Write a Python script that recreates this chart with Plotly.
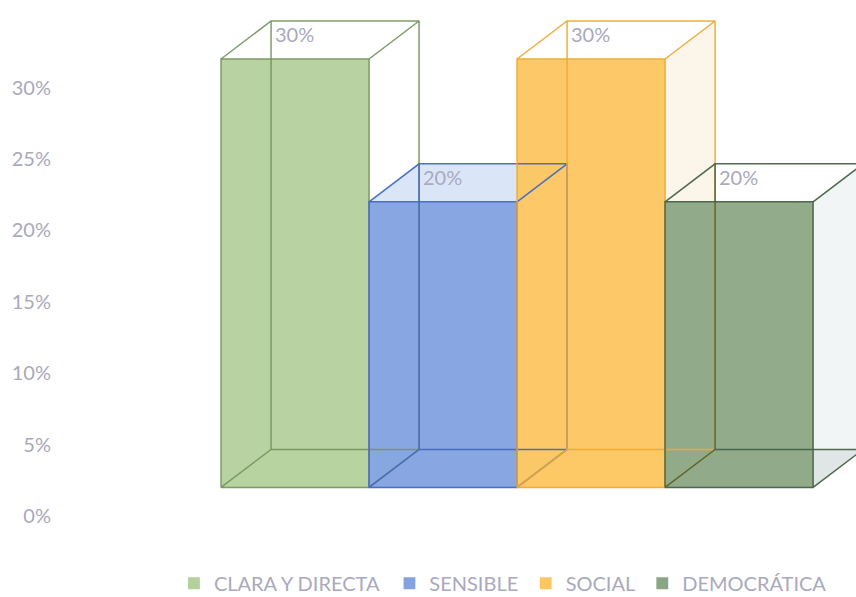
import plotly.graph_objects as go

# Data
categories = ["CLARA Y DIRECTA", "SENSIBLE", "SOCIAL", "DEMOCRÁTICA"]
values = [30, 20, 30, 20]
y_ticks = [0, 5, 10, 15, 20, 25, 30]
y_tick_labels = ["0%", "5%", "10%", "15%", "20%", "25%", "30%"]

# Style
front_colors = ["#b4d19c", "#82a2e0", "#fdc660", "#8ba685"]
line_colors = ["rgba(120,150,95,0.95)", "rgba(65,105,195,0.95)", "rgba(238,170,50,0.95)", "rgba(70,98,68,0.95)"]
top_colors = ["rgba(255,255,255,0)", "rgba(190,208,243,0.55)", "rgba(250,240,220,0.0)", "rgba(235,230,210,0.0)"]
side_colors = ["rgba(255,255,255,0)", "rgba(190,208,243,0.25)", "rgba(248,238,220,0.6)", "rgba(225,232,235,0.45)"]
floor_colors = ["rgba(190,215,170,0.3)", "rgba(150,180,230,0.3)", "rgba(250,210,130,0.3)", "rgba(190,200,195,0.5)"]
text_color = "#a9a9bd"
font_family = "Lato"
legend_x = [0.169, 0.437, 0.6065, 0.7515]

# Fake-3D geometry, in axis units
base = 2.0
depth_x = 0.338
depth_y = 2.66


def path(xs, ys):
    return "M " + " L ".join(f"{a},{b}" for a, b in zip(xs, ys)) + " Z"


fig = go.Figure()
shapes = []

for i, (cat, val) in enumerate(zip(categories, values)):
    fig.add_trace(go.Bar(
        x=[i], y=[val], base=[base], width=[1], name=cat,
        marker=dict(color=front_colors[i], opacity=0.95, line=dict(width=0)),
        hoverinfo="skip",
        legend="legend" if i == 0 else f"legend{i + 1}",
    ))

for i, val in enumerate(values):
    l, r = i - 0.5, i + 0.5
    bot, top = base, base + val
    ll, rr = l + depth_x, r + depth_x
    bb, tt = bot + depth_y, top + depth_y
    line = dict(color=line_colors[i], width=1.5)
    for xs, ys, col in [
        ([l, r, rr, ll], [bot, bot, bb, bb], floor_colors[i]),
        ([r, rr, rr, r], [bot, bb, tt, top], side_colors[i]),
        ([l, ll, rr, r], [top, tt, tt, top], top_colors[i]),
    ]:
        shapes.append(dict(type="path", path=path(xs, ys), xref="x", yref="y", layer="below",
                           fillcolor=col, line=dict(width=0)))
    # box outline: front, right, top, back-left edge, floor
    fig.add_trace(go.Scatter(
        x=[l, r, r, l, l, ll, rr, r, None, rr, rr, r, None, ll, ll, None, l, ll, rr],
        y=[bot, bot, top, top, bot, bb, bb, bot, None, bb, tt, top, None, bb, tt, None, top, tt, tt],
        mode="lines", line=line, showlegend=False, hoverinfo="skip"))
    fig.add_annotation(x=ll, y=tt, text=f"{val}%", showarrow=False, xanchor="left", yanchor="middle",
                       xshift=2, yshift=-13, font=dict(family=font_family, size=20, color=text_color))

layout_legends = {}
for i in range(4):
    key = "legend" if i == 0 else f"legend{i + 1}"
    layout_legends[key] = dict(
        orientation="h", x=legend_x[i], xanchor="left", y=-0.044, yanchor="top",
        font=dict(family=font_family, size=20, color=text_color), indentation=-14,
        bgcolor="rgba(0,0,0,0)", borderwidth=0, tracegroupgap=0)

fig.update_layout(
    width=856, height=597,
    margin=dict(l=52, r=0, t=0, b=57, autoexpand=False),
    paper_bgcolor="white", plot_bgcolor="white",
    barmode="overlay",
    font=dict(family=font_family, size=20, color=text_color),
    shapes=shapes,
    xaxis=dict(range=[-1.642, 3.79], showgrid=False, zeroline=False, showticklabels=False, ticks=""),
    yaxis=dict(range=[-1.68, 36.13], tickvals=y_ticks, ticktext=y_tick_labels, showgrid=False,
               zeroline=False, showline=False, ticks="",
               tickfont=dict(family=font_family, size=20, color=text_color)),
    **layout_legends,
)

fig.write_html("out.html", config={"displayModeBar": False},
               post_script="document.body.style.margin='0';document.body.style.overflow='hidden';")
